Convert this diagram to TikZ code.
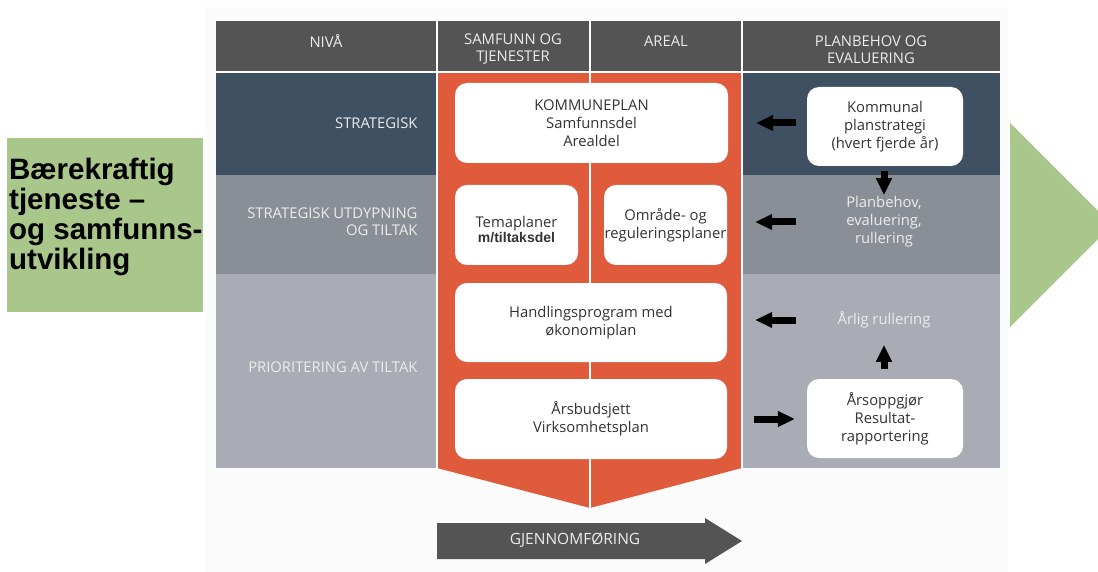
\documentclass[tikz,border=0pt]{standalone}
\usepackage{fontspec}
\setmainfont{Open Sans}
\newfontfamily\arialfont{Liberation Sans}
\usetikzlibrary{arrows.meta}

\definecolor{headgray}{HTML}{545454}
\definecolor{rowdark}{HTML}{3F5062}
\definecolor{rowmid}{HTML}{8A8F97}
\definecolor{rowlight}{HTML}{A9ACB4}
\definecolor{planorange}{HTML}{E05B3B}
\definecolor{planegreen}{HTML}{A9C78B}
\definecolor{labeltext}{HTML}{ECECEC}
\definecolor{boxtext}{HTML}{333333}
\definecolor{backdrop}{HTML}{FBFBFB}

\newcommand{\boxfont}{\fontsize{14.8}{18}\selectfont}
\newcommand{\labelfont}{\fontsize{14.8}{17}\selectfont}

\tikzset{
  whitebox/.style={fill=white, rounded corners=12pt, align=center, inner sep=0pt,
    text=boxtext, font=\boxfont},
  rowlabel/.style={anchor=east, align=right, text=labeltext, font=\labelfont},
  headlabel/.style={align=center, text=labeltext, font=\labelfont},
  sidetext/.style={align=center, text=labeltext, font=\boxfont},
  blockarrow/.style={line width=7pt, -{Triangle[length=17pt,width=15pt]}},
}

\begin{document}
\begin{tikzpicture}[x=1pt, y=-1pt]

   \clip (0,0) rectangle (1098,572);
   \fill[white] (0,0) rectangle (1098,572);
   \fill[backdrop] (205,7) rectangle (1008,572);

   % rows
   \fill[headgray] (216,21) rectangle (1000,72);
   \fill[rowdark] (216,72) rectangle (1000,175);
   \fill[rowmid] (216,175) rectangle (1000,274);
   \fill[rowlight] (216,274) rectangle (1000,468);

   % orange column with chevron
   \fill[planorange] (437,72) -- (742,72) -- (742,468) -- (590,508) -- (437,468) -- cycle;

   \draw[white, line width=1.2pt] (216,72) -- (1000,72);
   \draw[white, line width=1.2pt] (437,21) -- (437,468);
   \draw[white, line width=1.2pt] (742,21) -- (742,468);
   \draw[white, line width=1.2pt] (590,21) -- (590,508);

   % header
   \node[headlabel] (hniva) at (326,41) {NIVÅ};
   \node[headlabel] (hsamf) at (513,49.5) {SAMFUNN OG\\TJENESTER};
   \node[headlabel] (hareal) at (666,41) {AREAL};
   \node[headlabel] (hplan) at (871,49.5) {PLANBEHOV OG\\EVALUERING};

   % level labels
   \node[rowlabel] (lstrat) at (421,123) {STRATEGISK};
   \node[rowlabel] (lutdyp) at (421,221.5) {STRATEGISK UTDYPNING\\OG TILTAK};
   \node[rowlabel] (lprio) at (421,367) {PRIORITERING AV TILTAK};

   % plan boxes
   \node[whitebox, minimum width=273, minimum height=80] (kplan) at (591.5,123)
      {KOMMUNEPLAN\\Samfunnsdel\\Arealdel};
   \node[whitebox, minimum width=123, minimum height=80] (tema) at (516.5,225)
      {\rule{0pt}{20pt}Temaplaner\\[-3pt]{\arialfont\bfseries\fontsize{14}{16}\selectfont m/tiltaksdel}};
   \node[whitebox, minimum width=123, minimum height=80] (omrade) at (665.5,225)
      {Område- og\\reguleringsplaner};
   \node[whitebox, minimum width=272, minimum height=79] (handling) at (591,322.5)
      {Handlingsprogram med\\økonomiplan};
   \node[whitebox, minimum width=272, minimum height=80] (budsjett) at (591,419)
      {Årsbudsjett\\Virksomhetsplan};

   % planbehov column
   \node[whitebox, minimum width=156, minimum height=79] (kps) at (885,126.5)
      {Kommunal\\planstrategi\\(hvert fjerde år)};
   \node[sidetext] (planbehov) at (884,222) {Planbehov,\\evaluering,\\rullering};
   \node[sidetext] (aarlig) at (884,320) {Årlig rullering};
   \node[whitebox, minimum width=156, minimum height=79] (oppgjor) at (885,418.5)
      {Årsoppgjør\\Resultat-\\rapportering};

   \draw[blockarrow] ([xshift=-11pt]kps.west |- kplan) -- ([xshift=28pt]kplan.east);
   \draw[blockarrow] ([xshift=-11pt]kps.west |- planbehov) -- ([xshift=28pt]omrade.east |- planbehov);
   \draw[blockarrow] ([xshift=-11pt]kps.west |- aarlig) -- ([xshift=28pt]handling.east |- aarlig);
   \draw[blockarrow] ([xshift=27pt]budsjett.east) -- ([xshift=-12pt]oppgjor.west |- budsjett);
   \draw[blockarrow] ([yshift=-5pt]kps.south -| planbehov) -- ([yshift=-29pt]kps.south -| planbehov);
   \draw[blockarrow] ([yshift=10pt]oppgjor.north -| aarlig) -- ([yshift=34pt]oppgjor.north -| aarlig);

   % gjennomforing
   \fill[headgray] (437,523) -- (705,523) -- (705,518) -- (742,541) -- (705,564)
      -- (705,559) -- (437,559) -- cycle;
   \node[headlabel, font=\fontsize{15.5}{17}\selectfont] (gjennom) at (575,540) {GJENNOMFØRING};

   % green
   \fill[planegreen] (7,138) rectangle (203,312);
   \node[anchor=north west, align=left, inner sep=0pt,
      font=\arialfont\bfseries\fontsize{29.5}{30}\selectfont]
      (baere) at (9,157.5) {Bærekraftig\\tjeneste –\\og samfunns-\\utvikling};
   \fill[planegreen] (1010,123) -- (1112,225) -- (1010,327) -- cycle;

\end{tikzpicture}
\end{document}
